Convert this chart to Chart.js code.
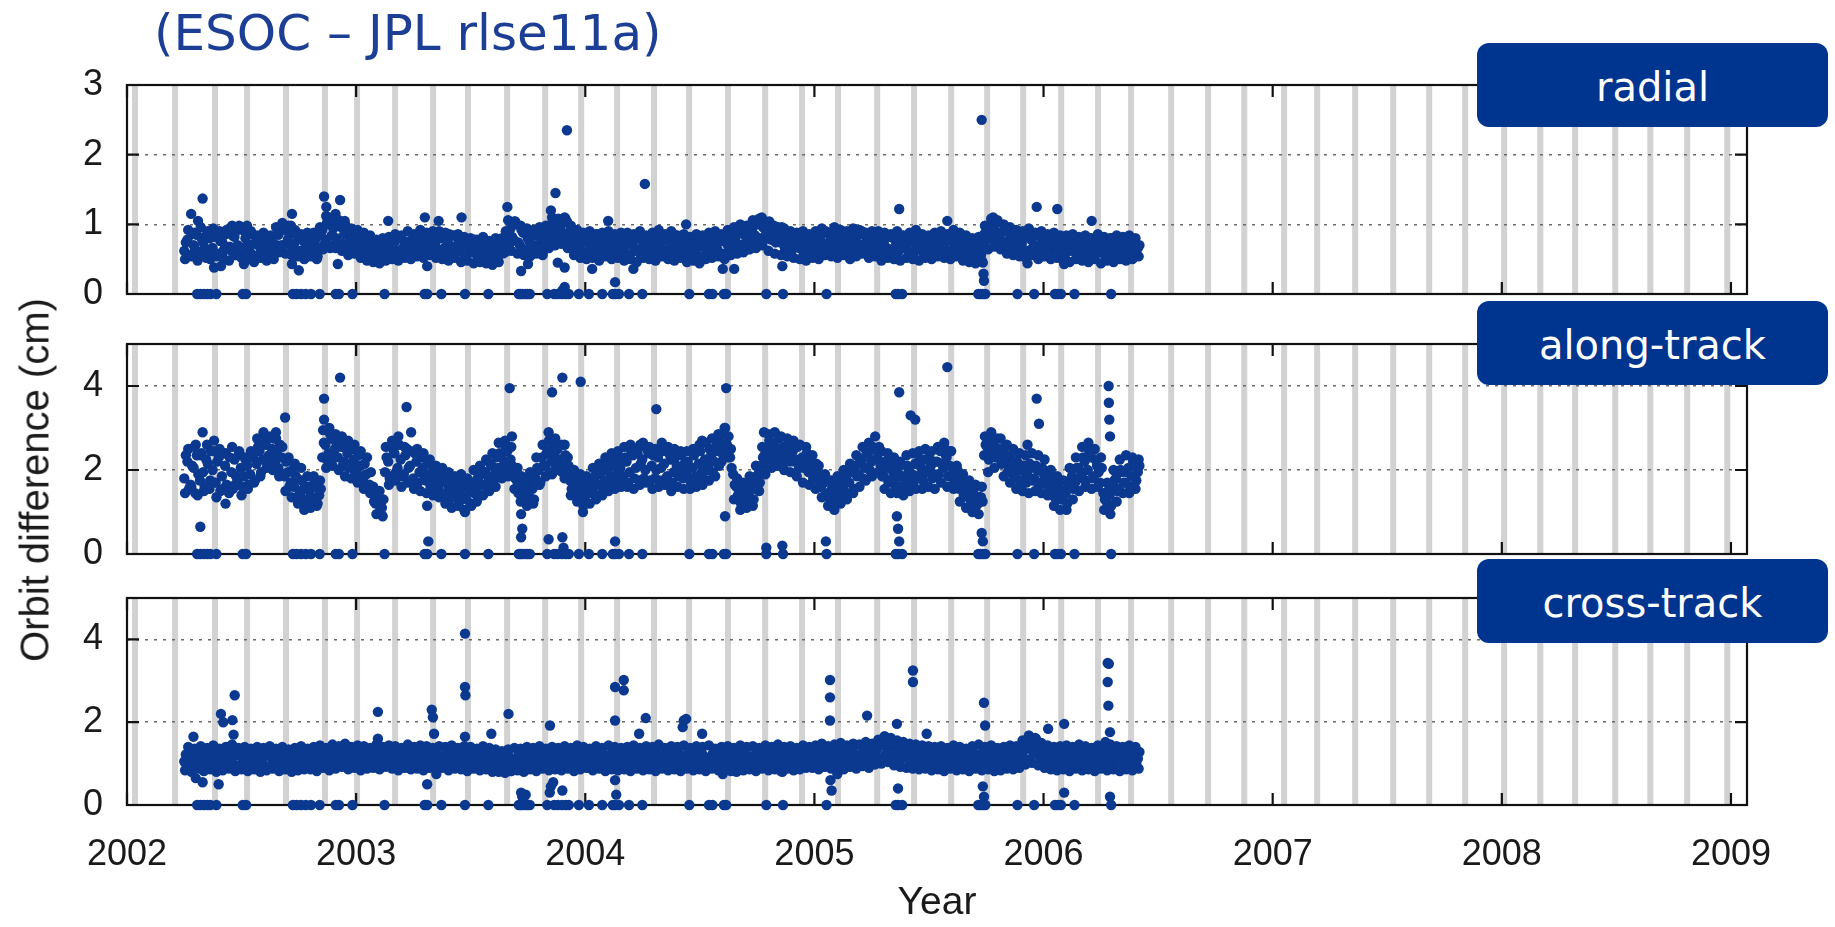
<!DOCTYPE html>
<html>
<head>
<meta charset="utf-8">
<script src="https://cdn.jsdelivr.net/npm/chart.js@4.4.1/dist/chart.umd.min.js"></script>
<style>
  body { margin: 0; width: 1835px; height: 927px; overflow: hidden; background: #fff; position: relative; }
  canvas { position: absolute; left: 0; }
  #title { position: absolute; left: 154px; top: 8px; font: 50px/50px "DejaVu Sans", sans-serif; color: #1c3e94; white-space: nowrap; }
  #ytitle { position: absolute; left: 35px; top: 480px; font: 40px "Liberation Sans", Arial, sans-serif; color: #1a1a1a;
            white-space: nowrap; transform: translate(-50%, -50%) rotate(-90deg); }
  .tag { position: absolute; left: 1477px; width: 351px; height: 84px; box-sizing: border-box; padding-top: 4px;
         background: #00358f; border-radius: 12px; color: #fff; font: 40px "DejaVu Sans", sans-serif;
         display: flex; align-items: center; justify-content: center; }
</style>
</head>
<body>
<div id="title">(ESOC – JPL rlse11a)</div>
<canvas id="radial" width="1835" height="319" style="top:0px"></canvas>
<canvas id="along" width="1835" height="279" style="top:300px"></canvas>
<canvas id="cross" width="1835" height="367" style="top:560px"></canvas>
<div id="ytitle">Orbit difference (cm)</div>
<div class="tag" style="top:43px">radial</div>
<div class="tag" style="top:301px">along-track</div>
<div class="tag" style="top:559px">cross-track</div>
<script>
// daily solutions thinned: A every 5 days, B and C read in between
const seriesStart = 2002.25;
const sampleStep = 5 / 365.25;

const xTickYears = [2002, 2003, 2004, 2005, 2006, 2007, 2008, 2009];
const yTicksRadial = [0, 1, 2, 3];
const yTicksFive = [0, 1, 2, 3, 4, 5];

// grey vertical markers
const bandYears = [2002.035, 2002.210, 2002.384, 2002.524, 2002.694, 2002.864, 2003.004, 2003.170, 2003.336,
  2003.488, 2003.659, 2003.825, 2003.982, 2004.139, 2004.300, 2004.453, 2004.623, 2004.785, 2004.946,
  2005.103, 2005.274, 2005.435, 2005.597, 2005.754, 2005.911, 2006.077, 2006.238, 2006.382, 2006.557,
  2006.718, 2006.876, 2007.050, 2007.194, 2007.360, 2007.526, 2007.683, 2007.840, 2008.010, 2008.168,
  2008.320, 2008.495, 2008.648, 2008.809, 2008.984];

// epochs where all three components drop to zero
const zeroEpochs = [2002.306, 2002.320, 2002.335, 2002.350, 2002.364, 2002.390, 2002.505, 2002.520, 2002.724,
  2002.740, 2002.759, 2002.780, 2002.803, 2002.841, 2002.911, 2002.925, 2002.984, 2003.124, 2003.299,
  2003.310, 2003.372, 2003.475, 2003.577, 2003.710, 2003.717, 2003.725, 2003.738, 2003.748, 2003.758,
  2003.834, 2003.864, 2003.880, 2003.899, 2003.915, 2003.928, 2003.972, 2004.016, 2004.074, 2004.120,
  2004.130, 2004.147, 2004.191, 2004.249, 2004.454, 2004.540, 2004.555, 2004.605, 2004.615, 2004.790,
  2004.863, 2005.053, 2005.355, 2005.365, 2005.383, 2005.715, 2005.725, 2005.735, 2005.746, 2005.886,
  2005.959, 2006.050, 2006.062, 2006.076, 2006.135, 2006.295];

const radialA = [
  0.62,0.78,0.55,0.70,0.85,0.60,0.74,0.52,0.80,0.66,0.88,0.58,0.76,0.69,0.90,0.62,0.82,0.70,0.95,0.64,
  0.98,0.60,0.72,0.55,0.68,0.80,0.58,0.66,0.75,0.62,0.85,0.70,0.92,0.78,0.98,0.72,0.84,0.62,0.76,0.66,
  0.70,0.58,0.80,0.66,0.92,0.78,1.00,0.84,1.08,0.74,0.96,0.86,0.70,0.90,0.80,0.64,0.76,0.68,0.82,0.60,
  0.56,0.66,0.52,0.70,0.60,0.64,0.55,0.74,0.62,0.80,0.68,0.58,0.76,0.66,0.84,0.70,0.62,0.78,0.68,0.88,
  0.72,0.60,0.80,0.66,0.74,0.58,0.84,0.70,0.62,0.76,0.56,0.68,0.60,0.72,0.54,0.64,0.58,0.68,0.52,0.62,
  0.56,0.66,0.74,0.86,0.94,0.78,1.00,0.70,0.88,0.64,0.76,0.70,0.84,0.66,0.80,0.74,0.92,0.86,1.02,0.94,
  0.96,0.84,1.04,0.78,0.70,0.80,0.64,0.74,0.60,0.78,0.68,0.58,0.72,0.64,0.80,0.70,0.62,0.76,0.66,0.82,
  0.60,0.70,0.56,0.74,0.64,0.80,0.68,0.58,0.76,0.70,0.84,0.66,0.74,0.62,0.78,0.70,0.86,0.64,0.72,0.60,
  0.66,0.56,0.72,0.60,0.68,0.54,0.74,0.62,0.70,0.80,0.64,0.76,0.58,0.72,0.68,0.84,0.74,0.90,0.70,0.82,
  0.76,0.92,0.84,1.00,0.80,0.94,0.86,0.78,0.98,0.88,0.74,0.82,0.68,0.78,0.72,0.84,0.66,0.74,0.62,0.70,
  0.64,0.76,0.68,0.84,0.72,0.60,0.78,0.70,0.88,0.66,0.74,0.82,0.70,0.62,0.80,0.72,0.90,0.68,0.76,0.84,
  0.70,0.78,0.62,0.74,0.66,0.82,0.58,0.72,0.64,0.76,0.68,0.60,0.74,0.80,0.66,0.72,0.58,0.70,0.78,0.64,
  0.72,0.80,0.66,0.76,0.62,0.84,0.70,0.74,0.64,0.70,0.58,0.66,0.72,0.60,0.56,0.86,0.96,0.80,0.92,1.02,
  0.84,0.74,0.90,0.70,0.80,0.66,0.76,0.72,0.84,0.62,0.78,0.70,0.86,0.68,0.74,0.80,0.64,0.72,0.60,0.76,
  0.68,0.58,0.74,0.64,0.70,0.56,0.66,0.78,0.62,0.72,0.54,0.68,0.60,0.74,0.64,0.58,0.70,0.62,0.76,0.66,
  0.60,0.70,0.64,0.72,0.66
];
const radialB = [
  0.74,0.56,0.86,0.64,0.58,0.80,0.66,0.90,0.60,0.82,0.54,0.76,0.62,0.92,0.68,0.84,0.56,0.98,0.66,0.80,
  0.70,0.86,0.52,0.78,0.62,0.56,0.74,0.84,0.50,0.70,0.64,0.94,0.72,0.86,0.66,0.90,0.60,0.78,0.56,0.82,
  0.62,0.76,0.54,0.86,0.70,1.02,0.66,0.94,0.80,1.04,0.72,0.92,0.82,0.64,0.74,0.86,0.58,0.80,0.56,0.72,
  0.70,0.50,0.64,0.58,0.76,0.52,0.72,0.60,0.82,0.56,0.74,0.64,0.60,0.80,0.58,0.76,0.84,0.56,0.80,0.62,
  0.58,0.82,0.64,0.54,0.86,0.68,0.60,0.78,0.72,0.54,0.70,0.62,0.78,0.52,0.66,0.74,0.50,0.62,0.70,0.56,
  0.68,0.58,0.90,0.70,0.82,1.04,0.74,0.92,0.60,0.80,0.86,0.62,0.70,0.90,0.62,0.88,0.80,1.06,0.84,0.74,
  0.82,1.08,0.88,0.92,0.62,0.86,0.72,0.58,0.82,0.66,0.76,0.86,0.60,0.80,0.68,0.56,0.80,0.62,0.74,0.60,
  0.76,0.52,0.80,0.62,0.86,0.56,0.74,0.82,0.62,0.56,0.74,0.80,0.58,0.84,0.64,0.56,0.76,0.80,0.58,0.76,
  0.58,0.76,0.64,0.80,0.52,0.70,0.60,0.80,0.54,0.64,0.76,0.56,0.84,0.62,0.78,0.66,0.86,0.70,0.92,0.64,
  0.90,0.74,1.02,0.72,0.96,0.80,1.04,0.92,0.74,0.80,0.96,0.66,0.86,0.62,0.82,0.70,0.80,0.58,0.78,0.64,
  0.80,0.58,0.76,0.62,0.90,0.68,0.84,0.60,0.74,0.82,0.62,0.70,0.84,0.76,0.66,0.86,0.64,0.80,0.62,0.74,
  0.62,0.86,0.72,0.56,0.84,0.64,0.78,0.60,0.84,0.66,0.80,0.74,0.58,0.68,0.84,0.60,0.78,0.64,0.58,0.80,
  0.64,0.56,0.84,0.60,0.80,0.68,0.58,0.86,0.74,0.56,0.78,0.74,0.56,0.78,0.66,0.76,0.88,1.04,0.74,0.88,
  0.70,0.96,0.76,0.86,0.60,0.88,0.64,0.82,0.58,0.80,0.66,0.84,0.60,0.78,0.64,0.70,0.82,0.58,0.80,0.66,
  0.60,0.78,0.62,0.82,0.56,0.76,0.72,0.58,0.80,0.60,0.76,0.62,0.78,0.56,0.72,0.80,0.56,0.72,0.64,0.58,
  0.74,0.62,0.78,0.58,0.70
];
const radialC = [
  0.50,0.92,0.54,0.88,0.48,0.96,0.56,0.86,0.50,0.94,0.58,0.90,0.52,0.86,0.48,0.98,0.56,0.92,0.52,0.90,
  0.50,0.90,0.46,0.84,0.52,0.88,0.48,0.82,0.56,0.96,0.60,1.02,0.58,0.98,0.56,0.92,0.54,0.86,0.50,0.88,
  0.54,0.88,0.50,0.96,0.64,1.12,0.70,1.10,0.66,1.06,0.62,1.00,0.56,0.94,0.58,0.92,0.52,0.88,0.48,0.84,
  0.46,0.78,0.44,0.80,0.48,0.82,0.50,0.86,0.48,0.84,0.52,0.90,0.50,0.86,0.54,0.92,0.52,0.88,0.56,0.90,
  0.52,0.90,0.50,0.88,0.48,0.84,0.52,0.86,0.46,0.82,0.48,0.80,0.44,0.78,0.46,0.82,0.44,0.76,0.42,0.80,
  0.46,0.80,0.60,1.06,0.62,1.04,0.58,0.98,0.56,0.94,0.54,0.92,0.58,0.96,0.56,0.98,0.66,1.10,0.70,1.08,
  0.72,1.10,0.66,0.98,0.56,0.92,0.52,0.88,0.50,0.90,0.52,0.86,0.48,0.88,0.54,0.90,0.50,0.86,0.52,0.88,
  0.48,0.88,0.50,0.86,0.46,0.90,0.52,0.84,0.50,0.88,0.48,0.92,0.54,0.86,0.50,0.90,0.48,0.84,0.52,0.86,
  0.46,0.82,0.48,0.86,0.44,0.84,0.50,0.88,0.52,0.90,0.54,0.86,0.50,0.92,0.56,0.96,0.58,1.00,0.60,0.98,
  0.64,1.06,0.66,1.08,0.70,1.04,0.62,0.98,0.58,0.96,0.56,0.94,0.54,0.90,0.52,0.88,0.50,0.90,0.48,0.86,
  0.52,0.90,0.50,0.94,0.56,0.88,0.54,0.96,0.52,0.92,0.56,0.90,0.50,0.94,0.54,0.92,0.58,0.88,0.52,0.90,
  0.54,0.90,0.48,0.88,0.52,0.86,0.50,0.90,0.48,0.84,0.52,0.88,0.50,0.92,0.48,0.86,0.52,0.84,0.50,0.88,
  0.54,0.90,0.52,0.86,0.50,0.92,0.54,0.88,0.48,0.84,0.46,0.80,0.44,0.82,0.48,0.98,0.64,1.08,0.68,1.06,
  0.64,1.00,0.58,0.96,0.56,0.92,0.54,0.90,0.52,0.94,0.56,0.88,0.50,0.90,0.54,0.86,0.50,0.88,0.52,0.84,
  0.48,0.84,0.46,0.86,0.50,0.82,0.48,0.84,0.46,0.80,0.50,0.86,0.44,0.82,0.48,0.80,0.46,0.84,0.50,0.82,
  0.48,0.84,0.50,0.80,0.54
];

const radialOutliers = [
  [2002.28,1.15],[2002.33,1.37],[2002.31,1.05],[2002.72,1.15],[2002.86,1.40],[2002.87,1.25],[2002.91,1.15],
  [2002.93,1.35],[2002.95,1.05],[2003.14,1.05],[2003.30,1.10],[2003.36,1.05],[2003.46,1.10],[2003.66,1.25],
  [2003.85,1.20],[2003.87,1.45],[2003.92,2.35],[2004.10,1.05],[2004.26,1.58],[2004.44,1.00],[2004.77,1.10],
  [2005.37,1.22],[2005.58,1.05],[2005.73,2.50],[2005.78,1.10],[2005.97,1.25],[2006.06,1.22],[2006.21,1.05],
  [2002.38,0.38],[2002.41,0.40],[2002.51,0.43],[2002.72,0.43],[2002.75,0.34],[2002.92,0.43],[2003.31,0.40],
  [2003.72,0.33],[2003.75,0.43],[2003.88,0.45],[2003.91,0.38],[2003.91,0.10],[2003.90,0.05],[2004.03,0.36],
  [2004.13,0.17],[2004.21,0.36],[2004.60,0.36],[2004.65,0.36],[2004.86,0.40],[2005.735,0.45],[2005.738,0.29],
  [2005.74,0.19],[2005.93,0.44],[2006.09,0.43]
];

const alongA = [
  1.80,2.20,1.65,2.05,2.35,1.75,1.95,2.25,1.55,2.00,1.70,2.30,1.85,2.10,1.60,1.95,2.25,1.75,2.05,1.85,
  2.10,1.90,2.30,2.15,2.45,2.25,2.60,2.35,2.50,2.20,2.05,2.30,1.85,1.95,1.70,1.60,1.80,1.45,1.55,1.30,
  1.50,1.25,1.60,1.40,2.30,2.60,2.40,2.75,2.50,2.30,2.55,2.20,2.40,2.10,2.25,1.95,2.10,1.80,1.90,1.65,
  1.45,1.20,1.35,1.10,1.95,2.20,1.85,2.40,2.05,2.25,1.90,2.50,2.10,1.80,2.20,1.95,2.05,1.75,1.90,1.70,
  1.85,1.60,1.75,1.45,1.65,1.50,1.35,1.55,1.40,1.60,1.30,1.50,1.70,1.55,1.85,1.65,1.95,1.80,2.10,1.90,
  2.05,2.30,2.15,2.45,2.25,1.95,1.75,1.60,1.45,1.70,1.35,1.55,1.80,2.00,2.30,2.10,2.45,2.20,2.35,2.50,
  2.25,2.05,1.90,1.75,1.60,1.80,1.50,1.65,1.40,1.70,1.55,1.85,1.65,1.95,1.75,2.00,1.85,2.10,1.90,2.05,
  1.85,2.20,1.95,2.35,2.05,1.75,2.25,2.00,2.40,2.10,1.80,2.30,2.05,2.15,1.85,2.25,1.95,2.10,2.00,1.80,
  1.95,1.80,2.05,1.85,2.15,1.95,2.25,2.10,2.35,2.20,2.45,2.65,2.85,2.60,2.30,1.90,1.60,1.45,1.30,1.50,
  1.40,1.65,1.55,1.90,2.10,2.35,2.55,2.40,2.65,2.50,2.30,2.55,2.40,2.20,2.45,2.25,2.05,2.30,2.15,1.95,
  2.05,1.80,1.90,1.60,1.70,1.45,1.30,1.50,1.40,1.65,1.55,1.80,1.70,1.95,2.10,1.90,2.25,2.05,2.40,2.20,
  2.50,2.30,2.10,1.85,2.05,1.75,1.95,1.80,1.60,1.85,1.70,2.00,1.90,2.15,1.85,2.05,2.25,1.95,2.10,1.90,
  2.20,2.45,2.05,2.30,2.10,1.90,1.75,1.55,1.65,1.40,1.50,1.25,1.40,1.20,1.35,2.35,2.55,2.40,2.60,2.30,
  2.45,2.20,2.35,2.05,2.15,1.90,2.00,1.75,1.95,1.85,2.05,1.80,2.00,1.70,1.90,1.65,1.50,1.70,1.40,1.55,
  1.30,1.45,1.60,1.85,1.70,2.05,1.90,2.20,2.00,2.30,1.85,2.10,1.70,1.45,1.25,1.40,1.60,1.80,1.55,1.95,
  1.70,2.05,1.85,2.10,1.95
];
const alongB = [
  2.35,1.55,2.10,1.45,1.90,2.40,1.60,2.15,2.45,1.70,2.20,1.50,2.40,1.65,2.30,1.55,1.85,2.45,1.60,2.25,
  1.65,2.30,1.75,2.55,1.95,2.70,2.10,2.20,2.75,2.40,2.60,1.90,2.20,1.60,2.00,1.85,1.40,1.75,1.25,1.60,
  1.35,1.70,1.20,1.55,2.65,2.25,2.85,2.30,2.65,2.75,2.10,2.60,2.05,2.50,1.90,2.35,1.75,2.15,1.60,1.95,
  1.25,1.50,1.05,1.30,2.30,1.80,2.50,1.95,2.60,1.85,2.35,2.05,1.75,2.40,1.70,2.30,1.80,2.15,1.60,2.00,
  1.55,1.95,1.40,1.80,1.30,1.75,1.60,1.20,1.70,1.35,1.65,1.15,1.45,1.80,1.40,1.95,1.60,2.15,1.75,2.30,
  2.40,1.95,2.55,2.05,2.10,1.80,1.45,1.85,1.30,1.50,1.75,1.30,2.05,1.70,2.10,2.40,1.95,2.55,2.10,2.20,
  1.95,2.35,2.10,1.55,1.85,1.40,1.75,1.30,1.60,1.45,1.80,1.40,1.90,1.55,2.10,1.70,2.20,1.75,2.25,1.80,
  2.30,1.70,2.45,1.80,2.40,2.15,1.80,2.50,1.75,2.35,2.00,1.75,2.45,1.80,2.40,1.70,2.30,1.85,2.35,2.15,
  2.20,1.70,2.35,1.75,2.45,1.80,2.00,2.50,1.95,2.55,2.10,2.40,2.55,2.80,2.05,1.65,1.40,1.20,1.55,1.25,
  1.65,1.30,1.85,1.70,2.30,2.15,2.70,2.25,2.45,2.75,2.15,2.35,2.60,2.35,2.20,2.55,2.10,2.05,2.40,2.25,
  1.80,2.15,1.65,1.85,1.40,1.75,1.55,1.20,1.65,1.35,1.80,1.45,1.95,1.55,1.85,2.20,1.80,2.40,2.00,2.55,
  2.25,2.55,1.85,2.20,1.70,2.15,1.65,2.05,1.85,1.55,2.10,1.75,1.70,1.85,2.25,1.75,1.95,2.30,1.80,2.20,
  1.90,2.15,2.40,1.85,2.45,1.70,2.00,1.80,1.40,1.70,1.30,1.55,1.15,1.35,1.25,2.60,2.25,2.70,2.30,2.50,
  2.15,2.55,1.95,2.30,1.80,2.20,1.70,2.10,1.70,2.15,1.75,2.10,1.65,2.05,1.75,1.80,1.60,1.35,1.65,1.30,
  1.50,1.20,1.75,1.55,2.05,1.80,2.30,1.75,2.45,1.80,2.25,1.95,2.05,1.30,1.50,1.15,1.75,1.50,2.00,1.70,
  1.95,1.60,2.20,1.75,2.10
];
const alongC = [
  1.45,2.50,1.60,2.55,1.40,2.35,1.50,2.60,1.75,2.45,1.35,2.50,1.55,2.40,1.45,2.55,1.65,2.35,1.40,2.30,
  1.55,2.45,1.70,2.75,1.85,2.90,2.05,2.80,2.00,2.75,1.85,2.55,1.50,2.30,1.35,2.15,1.20,2.05,1.05,1.85,
  1.10,1.85,1.15,1.75,2.95,2.05,3.00,2.10,2.85,2.00,2.80,1.85,2.70,1.80,2.60,1.70,2.45,1.55,2.30,1.45,
  1.60,0.95,1.50,0.90,2.55,1.65,2.70,1.75,2.80,1.60,2.55,1.70,2.45,1.55,2.50,1.50,2.40,1.45,2.25,1.40,
  2.10,1.35,2.05,1.20,1.95,1.10,1.85,1.15,1.90,1.05,1.80,1.20,2.00,1.25,2.10,1.40,2.25,1.50,2.40,1.60,
  2.65,1.80,2.70,1.85,2.55,1.55,2.05,1.25,1.80,1.15,1.95,1.20,2.30,1.65,2.60,1.85,2.70,1.90,2.75,2.00,
  2.60,1.80,2.30,1.40,2.00,1.25,1.90,1.15,1.85,1.20,2.05,1.30,2.15,1.40,2.30,1.50,2.40,1.55,2.45,1.60,
  2.55,1.60,2.60,1.55,2.50,1.65,2.65,1.70,2.55,1.55,2.50,1.60,2.65,1.65,2.55,1.50,2.50,1.60,2.45,1.55,
  2.45,1.55,2.50,1.60,2.60,1.65,2.65,1.75,2.75,1.85,2.85,2.20,3.00,2.30,2.50,1.30,1.80,1.05,1.70,1.10,
  1.85,1.15,2.10,1.50,2.55,1.90,2.85,2.05,2.90,2.10,2.80,2.00,2.75,1.95,2.70,1.85,2.60,1.70,2.55,1.65,
  2.35,1.55,2.10,1.35,1.90,1.15,1.75,1.05,1.85,1.20,2.00,1.30,2.15,1.45,2.35,1.60,2.55,1.75,2.65,1.85,
  2.80,1.95,2.45,1.55,2.40,1.45,2.30,1.45,2.20,1.40,2.35,1.50,2.40,1.55,2.45,1.55,2.50,1.60,2.45,1.55,
  2.55,1.70,2.65,1.60,2.45,1.55,2.10,1.25,1.90,1.10,1.75,1.00,1.65,0.95,1.60,2.80,1.95,2.90,2.05,2.75,
  2.75,1.85,2.60,1.70,2.50,1.55,2.40,1.50,2.35,1.45,2.40,1.50,2.35,1.45,2.25,1.40,2.00,1.15,1.85,1.05,
  1.75,1.05,2.05,1.30,2.30,1.50,2.55,1.60,2.65,1.55,2.50,1.60,2.30,1.05,1.70,0.95,2.00,1.25,2.25,1.45,
  2.35,1.45,2.30,1.55,2.25
];

const alongOutliers = [
  [2002.33,2.90],[2002.30,2.60],[2002.38,2.70],[2002.65,2.90],[2002.69,3.25],[2002.86,3.70],[2002.86,3.20],
  [2002.93,4.20],[2003.22,3.50],[2003.24,2.90],[2003.67,3.95],[2003.68,2.80],[2003.84,2.90],[2003.855,3.85],
  [2003.90,4.20],[2003.91,2.60],[2003.98,4.10],[2004.24,2.60],[2004.31,3.45],[2004.51,2.70],[2004.615,3.95],
  [2004.61,3.00],[2004.78,2.90],[2005.37,3.85],[2005.42,3.30],[2005.44,3.20],[2005.58,4.45],[2005.57,2.50],
  [2005.93,2.60],[2005.97,3.70],[2005.98,3.10],[2006.284,4.00],[2006.285,3.60],[2006.287,3.20],[2006.29,2.80],
  [2002.32,0.65],[2002.43,1.20],[2003.31,1.15],[2003.315,0.30],[2003.475,1.00],[2003.72,0.95],[2003.725,0.60],
  [2003.72,0.40],[2003.99,1.00],[2004.61,0.90],[2005.36,0.90],[2005.365,0.60],[2005.37,0.30],[2005.73,0.50],
  [2005.735,0.30],[2003.84,0.35],[2003.90,0.40],[2003.905,0.15],[2004.13,0.30],[2004.79,0.15],[2004.86,0.20],
  [2005.05,0.30]
];

const crossA = [
  1.05,0.90,1.20,0.98,1.30,1.10,0.85,1.15,1.35,1.00,1.25,1.08,0.92,1.22,1.40,1.05,1.18,0.95,1.28,1.10,
  0.98,1.20,1.05,0.90,1.15,1.00,1.25,0.92,1.10,1.18,0.95,1.08,1.22,0.88,1.12,1.00,1.20,0.94,1.06,1.15,
  0.96,1.10,1.22,0.92,1.05,1.18,0.90,1.12,1.26,1.00,1.15,1.30,1.05,1.20,0.98,1.35,1.10,1.25,1.02,1.18,
  1.10,1.28,0.98,1.20,1.05,1.32,1.12,0.95,1.18,1.08,1.25,0.92,1.15,1.02,1.22,0.96,1.10,1.30,1.00,1.16,
  1.05,1.20,0.94,1.12,1.28,1.00,1.18,1.08,1.35,1.02,1.22,0.96,1.14,1.06,1.25,0.98,1.16,1.04,0.90,1.10,
  1.00,0.88,1.12,0.95,0.82,1.05,0.90,1.15,1.00,1.22,1.08,0.96,1.18,1.04,1.25,0.94,1.12,1.02,1.20,1.06,
  0.98,1.15,1.05,1.25,0.92,1.10,1.20,1.00,1.30,1.08,0.95,1.18,1.04,1.26,0.98,1.14,1.02,1.22,0.94,1.10,
  1.06,1.20,0.96,1.12,1.28,1.02,1.16,0.92,1.10,1.24,1.00,1.18,1.08,0.95,1.22,1.04,1.30,1.10,0.98,1.15,
  1.04,1.18,0.94,1.10,1.26,1.00,1.14,1.06,0.90,1.20,1.02,1.12,0.96,1.24,1.08,1.00,1.16,0.92,1.10,1.20,
  1.02,1.15,0.95,1.08,1.22,1.00,1.12,0.90,1.18,1.05,1.25,0.98,1.14,1.06,1.28,1.00,1.16,1.08,1.22,1.04,
  1.12,1.26,1.00,1.18,1.06,1.30,1.10,0.96,1.20,1.08,1.24,1.02,1.16,1.32,1.08,1.22,0.98,1.14,1.28,1.06,
  1.20,1.38,1.10,1.45,1.25,1.52,1.15,1.40,1.30,1.18,1.35,1.08,1.28,1.16,1.05,1.22,0.98,1.14,1.06,1.20,
  1.02,1.16,0.94,1.10,1.24,1.00,1.12,0.90,1.06,1.18,0.96,1.08,1.20,1.00,1.14,1.30,1.05,1.22,0.95,1.12,
  1.00,1.18,1.06,0.92,1.14,1.26,1.02,1.20,1.40,1.10,1.55,1.25,1.45,1.15,1.32,1.05,1.20,0.98,1.12,1.04,
  1.16,0.96,1.10,1.24,1.00,1.14,1.30,1.04,1.18,0.94,1.12,1.22,1.02,1.16,1.08,1.28,0.98,1.14,1.06,1.20,
  1.10,1.30,1.02,1.24,1.12
];
const crossB = [
  1.22,1.00,0.88,1.30,1.08,0.92,1.26,1.02,0.90,1.20,0.96,1.32,1.15,0.98,1.10,1.28,0.90,1.22,1.02,0.94,
  1.24,0.92,1.14,1.28,0.96,1.18,0.88,1.22,1.04,0.90,1.26,1.00,0.94,1.18,1.02,1.28,0.92,1.16,1.24,0.98,
  1.18,0.94,1.06,1.30,1.12,0.96,1.28,1.00,1.10,1.32,0.98,1.18,1.36,1.00,1.22,1.08,1.30,0.96,1.24,1.06,
  1.26,0.98,1.16,1.34,0.96,1.14,1.00,1.28,1.06,1.30,0.96,1.20,1.34,1.04,1.16,1.26,0.94,1.18,1.28,1.02,
  1.26,0.98,1.18,1.06,0.94,1.24,1.02,1.30,0.96,1.14,1.06,1.28,1.00,1.24,0.98,1.20,1.08,1.26,1.12,0.94,
  1.14,1.04,0.92,1.18,1.08,0.90,1.20,1.02,1.28,0.92,1.16,1.30,1.00,1.24,0.98,1.14,1.30,0.96,1.08,1.26,
  1.16,0.94,1.28,1.02,1.18,1.34,1.00,1.16,0.94,1.24,1.14,0.98,1.30,1.10,1.20,0.92,1.26,1.06,1.18,1.30,
  0.94,1.14,1.26,1.00,0.96,1.20,1.06,1.30,1.20,0.96,1.28,1.04,0.92,1.22,1.12,0.96,1.14,1.26,1.20,0.96,
  1.24,0.98,1.14,1.30,0.96,1.20,1.04,0.90,1.24,1.10,0.94,1.28,1.18,1.02,0.94,1.26,1.04,1.22,1.30,0.98,
  1.18,0.96,1.26,1.12,0.96,1.30,1.04,1.22,1.00,1.26,0.98,1.16,1.30,0.94,1.12,1.22,1.00,1.30,0.98,1.14,
  0.98,1.14,1.30,0.96,1.24,1.08,0.98,1.28,1.02,1.32,1.00,1.20,1.36,1.02,1.18,1.00,1.30,1.22,1.04,1.34,
  1.30,1.12,1.48,1.22,1.36,1.18,1.44,1.26,1.12,1.40,1.24,1.36,1.10,1.30,1.22,1.02,1.30,1.20,1.32,0.96,
  1.20,1.30,1.08,1.26,0.96,1.18,1.30,1.02,1.24,0.92,1.16,1.28,0.98,1.22,0.92,1.12,1.20,1.00,1.26,1.04,
  1.22,0.96,1.28,1.12,1.34,1.00,1.16,1.30,1.06,1.48,1.30,1.60,1.20,1.36,1.10,1.26,0.96,1.18,1.26,1.10,
  0.98,1.26,1.20,0.96,1.30,1.06,1.00,1.24,1.08,1.28,1.02,1.00,1.26,1.10,0.96,1.20,1.32,1.06,1.24,1.00,
  1.26,1.04,1.20,1.00,1.28
];
const crossC = [
  0.84,1.40,0.80,1.36,0.88,1.42,0.82,1.38,0.86,1.44,0.80,1.36,0.84,1.40,0.88,1.46,0.82,1.38,0.86,1.40,
  0.82,1.36,0.86,1.40,0.80,1.38,0.84,1.42,0.88,1.36,0.82,1.40,0.86,1.34,0.80,1.38,0.84,1.42,0.86,1.36,
  0.86,1.40,0.82,1.44,0.90,1.38,0.84,1.46,0.88,1.42,0.92,1.48,0.86,1.40,0.90,1.44,0.84,1.42,0.88,1.38,
  0.90,1.46,0.86,1.40,0.92,1.44,0.88,1.42,0.84,1.38,0.90,1.46,0.86,1.40,0.88,1.44,0.84,1.42,0.90,1.38,
  0.86,1.42,0.90,1.40,0.84,1.44,0.88,1.38,0.86,1.42,0.82,1.40,0.88,1.36,0.84,1.42,0.86,1.38,0.80,1.34,
  0.80,1.30,0.78,1.34,0.82,1.38,0.84,1.36,0.80,1.40,0.86,1.38,0.82,1.42,0.88,1.36,0.84,1.40,0.86,1.38,
  0.84,1.42,0.88,1.38,0.82,1.44,0.86,1.40,0.90,1.36,0.84,1.42,0.88,1.38,0.82,1.44,0.86,1.40,0.84,1.38,
  0.86,1.40,0.82,1.44,0.88,1.38,0.84,1.42,0.86,1.40,0.82,1.46,0.88,1.38,0.84,1.42,0.86,1.40,0.82,1.44,
  0.88,1.38,0.84,1.42,0.86,1.40,0.82,1.44,0.88,1.36,0.84,1.40,0.86,1.42,0.82,1.38,0.88,1.44,0.84,1.40,
  0.86,1.42,0.82,1.38,0.88,1.44,0.84,1.40,0.86,1.46,0.82,1.40,0.88,1.42,0.84,1.38,0.86,1.44,0.90,1.40,
  0.90,1.44,0.86,1.48,0.92,1.42,0.88,1.46,0.90,1.50,0.86,1.44,0.92,1.48,0.88,1.46,0.94,1.52,0.90,1.48,
  0.98,1.58,1.00,1.66,1.04,1.62,0.96,1.56,0.92,1.52,0.90,1.48,0.88,1.46,0.86,1.44,0.88,1.42,0.84,1.40,
  0.86,1.42,0.82,1.38,0.88,1.44,0.84,1.40,0.86,1.36,0.82,1.42,0.88,1.46,0.84,1.40,0.86,1.44,0.82,1.38,
  0.84,1.40,0.88,1.44,0.86,1.42,0.90,1.56,0.98,1.68,1.02,1.62,0.96,1.50,0.90,1.44,0.86,1.40,0.84,1.42,
  0.86,1.44,0.82,1.40,0.88,1.46,0.84,1.42,0.86,1.38,0.82,1.44,0.88,1.40,0.84,1.46,0.86,1.42,0.82,1.40,
  0.86,1.44,0.84,1.40,0.88
];

const crossOutliers = [
  [2002.29,1.65],[2002.41,2.20],[2002.42,2.00],[2002.46,2.05],[2002.47,2.65],[2002.465,1.70],[2003.095,2.25],
  [2003.095,1.60],[2003.33,2.30],[2003.335,2.12],[2003.34,1.72],[2003.475,4.14],[2003.475,2.85],[2003.477,2.65],
  [2003.475,1.65],[2003.59,1.72],[2003.665,2.20],[2003.846,1.92],[2004.13,2.85],[2004.168,3.02],[2004.168,2.77],
  [2004.13,2.04],[2004.264,2.10],[2004.235,1.72],[2004.43,2.04],[2004.44,2.08],[2004.425,1.88],[2004.51,1.72],
  [2005.068,3.02],[2005.068,2.60],[2005.068,2.04],[2005.23,2.16],[2005.43,3.25],[2005.43,2.97],[2005.36,1.96],
  [2005.49,1.72],[2005.74,2.47],[2005.745,1.92],[2006.02,1.84],[2006.09,1.96],[2006.28,3.43],[2006.285,3.41],
  [2006.28,2.97],[2006.283,2.40],[2006.29,1.76],[2006.27,1.52],
  [2002.30,0.65],[2002.33,0.55],[2002.40,0.50],[2003.31,0.50],[2003.35,0.75],[2003.72,0.30],[2003.725,0.20],
  [2003.73,0.12],[2003.74,0.25],[2003.845,0.30],[2003.85,0.45],[2003.86,0.55],[2003.90,0.35],[2004.13,0.60],
  [2004.135,0.25],[2004.60,0.75],[2004.66,0.80],[2005.07,0.60],[2005.075,0.35],[2005.365,0.40],[2005.74,0.20],
  [2005.735,0.45],[2006.09,0.30],[2006.29,0.20],[2005.10,0.75],[2004.86,0.80]
];

const dotColor = '#0b3990';
const axisFont = { family: '"Liberation Sans", Arial, sans-serif', size: 36 };

// grey markers go under the grid, frame and inward ticks go under the dots
const panelDecor = {
  id: 'panelDecor',
  beforeDraw(chart) {
    const { ctx, chartArea: a } = chart;
    const x = chart.scales.x;
    ctx.save();
    ctx.strokeStyle = '#d2d2d2';
    ctx.lineWidth = 6;
    bandYears.forEach(t => {
      const px = x.getPixelForValue(t);
      ctx.beginPath();
      ctx.moveTo(px, a.top);
      ctx.lineTo(px, a.bottom);
      ctx.stroke();
    });
    ctx.restore();
  },
  beforeDatasetsDraw(chart) {
    const { ctx, chartArea: a } = chart;
    const x = chart.scales.x, y = chart.scales.y;
    ctx.save();
    ctx.strokeStyle = '#111';
    ctx.lineWidth = 2.2;
    ctx.strokeRect(a.left, a.top, a.width, a.height);
    ctx.beginPath();
    xTickYears.forEach(t => {
      const px = x.getPixelForValue(t);
      ctx.moveTo(px, a.bottom); ctx.lineTo(px, a.bottom - 12);
      ctx.moveTo(px, a.top); ctx.lineTo(px, a.top + 12);
    });
    y.ticks.forEach(tk => {
      const py = y.getPixelForValue(tk.value);
      ctx.moveTo(a.left, py); ctx.lineTo(a.left + 12, py);
      ctx.moveTo(a.right, py); ctx.lineTo(a.right - 12, py);
    });
    ctx.stroke();
    ctx.restore();
  }
};

// A on the 5-day grid, C a quarter step later, B half a step later
function makePanel(id, series, outliers, yTicks, padTop, padBottom, withXAxis) {
  const offsets = [0, 0.5, 0.25];
  const dotStyle = { backgroundColor: dotColor, borderWidth: 0, pointRadius: 5.2, clip: false };
  const datasets = series.map((values, k) => Object.assign({
    data: values.map((v, i) => ({ x: seriesStart + (i + offsets[k]) * sampleStep, y: v }))
  }, dotStyle));
  datasets.push(Object.assign({ data: zeroEpochs.map(t => ({ x: t, y: 0 })) }, dotStyle));
  datasets.push(Object.assign({ data: outliers.map(([t, v]) => ({ x: t, y: v })) }, dotStyle));

  new Chart(document.getElementById(id), {
    type: 'scatter',
    data: { datasets: datasets },
    options: {
      responsive: false,
      animation: false,
      events: [],
      layout: { padding: { top: padTop, bottom: padBottom, left: 0, right: 88 } },
      plugins: { legend: { display: false }, tooltip: { enabled: false } },
      scales: {
        x: {
          type: 'linear',
          min: 2002,
          max: 2009.07,
          display: withXAxis,
          afterBuildTicks: axis => { axis.ticks = xTickYears.map(v => ({ value: v })); },
          afterFit: axis => { if (withXAxis) axis.height = 122; },
          grid: { display: false },
          border: { display: false },
          ticks: { padding: 20, color: '#1a1a1a', font: axisFont, maxRotation: 0, callback: v => String(v) },
          title: {
            display: withXAxis,
            text: 'Year',
            color: '#1a1a1a',
            padding: { top: 0, bottom: 0 },
            font: { family: axisFont.family, size: 39 }
          }
        },
        y: {
          min: 0,
          max: yTicks[yTicks.length - 1],
          afterBuildTicks: axis => { axis.ticks = yTicks.map(v => ({ value: v })); },
          afterFit: axis => { axis.width = 127; axis.paddingTop = 0; axis.paddingBottom = 0; },
          grid: { color: '#6a6a6a', lineWidth: 1.5, drawTicks: false },
          border: { display: false, dash: [3, 6] },
          ticks: { padding: 24, color: '#1a1a1a', font: axisFont, callback: v => String(v) }
        }
      }
    },
    plugins: [panelDecor]
  });
}

makePanel('radial', [radialA, radialB, radialC], radialOutliers, yTicksRadial, 85, 25, false);
makePanel('along', [alongA, alongB, alongC], alongOutliers, yTicksFive, 44, 25, false);
makePanel('cross', [crossA, crossB, crossC], crossOutliers, yTicksFive, 38, 0, true);
</script>
</body>
</html>
